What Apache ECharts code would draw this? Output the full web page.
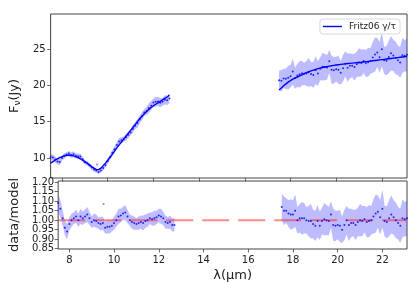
<!DOCTYPE html>
<html>
<head>
<meta charset="utf-8">
<script src="https://cdn.jsdelivr.net/npm/echarts@6/dist/echarts.min.js"></script>
<style>html,body{margin:0;padding:0;background:#fff}#c{width:415px;height:283px}</style>
</head>
<body>
<div id="c"></div>
<script>
// ---- data ----
const xTicks = [8, 10, 12, 14, 16, 18, 20, 22];
const fluxTicks = [10, 15, 20, 25];
const ratioTicks = [0.85, 0.90, 0.95, 1.00, 1.05, 1.10, 1.15, 1.20];
const ratioLabelsOdd = [0.85, 0.95, 1.05, 1.15];
const ratioLabelsEven = [0.90, 1.00, 1.10, 1.20];

const wlA = [7.5,7.6,7.7,7.8,7.9,8.0,8.1,8.2,8.3,8.4,8.5,8.6,8.7,8.8,8.9,9.0,9.1,9.2,9.3,9.4,9.5,9.6,9.7,9.8,9.9,10.0,10.1,10.2,10.3,10.4,10.5,10.6,10.7,10.8,10.9,11.0,11.1,11.2,11.3,11.4,11.5,11.6,11.7,11.8,11.9,12.0,12.1,12.2,12.3,12.4,12.5,12.6,12.7];
const modelA = [9.3,9.5,9.7,9.9,10.05,10.2,10.3,10.38,10.4,10.38,10.3,10.2,10.05,9.9,9.72,9.5,9.28,9.05,8.82,8.6,8.4,8.4,8.6,8.95,9.3,9.7,10.1,10.5,10.95,11.4,11.8,12.2,12.6,13.0,13.4,13.8,14.2,14.6,15.0,15.4,15.75,16.1,16.4,16.7,16.95,17.2,17.4,17.6,17.8,18.0,18.2,18.4,18.65];
const ratioA = [1.09,1.06,1.01,0.96,0.94,0.98,1.00,1.01,1.02,1.00,1.02,1.01,1.02,1.03,1.01,0.99,1.00,0.995,0.985,0.98,0.985,0.96,0.965,0.965,0.97,0.985,1.00,1.02,1.025,1.035,1.04,1.02,1.00,0.99,0.985,0.98,0.985,0.99,0.985,0.995,1.00,1.01,1.005,1.01,1.015,1.025,1.02,1.01,0.99,0.985,0.99,0.975,0.975];
const rerrA = [0.045,0.045,0.04,0.04,0.04,0.035,0.035,0.03,0.035,0.035,0.04,0.035,0.035,0.04,0.035,0.03,0.035,0.035,0.03,0.035,0.035,0.03,0.035,0.035,0.03,0.035,0.035,0.04,0.035,0.035,0.04,0.035,0.03,0.035,0.035,0.03,0.035,0.035,0.04,0.035,0.035,0.03,0.035,0.04,0.035,0.035,0.04,0.035,0.035,0.03,0.035,0.035,0.035];

const wlB = [17.5,17.6,17.7,17.8,17.9,18.0,18.1,18.2,18.3,18.4,18.5,18.6,18.7,18.8,18.9,19.0,19.1,19.2,19.3,19.4,19.5,19.6,19.7,19.8,19.9,20.0,20.1,20.2,20.3,20.4,20.5,20.6,20.7,20.8,20.9,21.0,21.1,21.2,21.3,21.4,21.5,21.6,21.7,21.8,21.9,22.0,22.1,22.2,22.3,22.4,22.5,22.6,22.7,22.8,22.9,23.0,23.1];
const modelB = [19.35,19.65,19.95,20.2,20.45,20.65,20.85,21.0,21.15,21.3,21.45,21.6,21.75,21.9,22.0,22.1,22.2,22.3,22.38,22.45,22.52,22.58,22.64,22.7,22.75,22.8,22.84,22.88,22.92,22.96,23.0,23.03,23.06,23.09,23.12,23.15,23.18,23.22,23.26,23.3,23.34,23.38,23.42,23.46,23.5,23.54,23.58,23.62,23.66,23.7,23.74,23.78,23.82,23.86,23.9,23.94,23.98];
const ratioB = [1.07,1.05,1.05,1.035,1.03,1.03,1.05,1.00,1.01,1.01,1.01,1.00,0.995,0.995,0.98,0.97,0.995,0.97,0.995,1.005,1.00,0.995,1.03,0.975,0.97,0.975,0.97,0.95,0.975,1.00,0.975,0.985,0.985,0.975,0.99,1.00,0.995,1.005,0.99,0.995,1.00,1.02,1.035,1.045,1.015,1.06,0.995,0.99,1.01,1.03,1.015,1.00,0.985,0.97,1.01,1.005,1.01];
const rerrB = [0.07,0.075,0.065,0.07,0.08,0.075,0.085,0.07,0.075,0.085,0.08,0.07,0.08,0.09,0.075,0.08,0.085,0.075,0.07,0.085,0.08,0.075,0.07,0.085,0.08,0.075,0.085,0.07,0.08,0.075,0.085,0.075,0.07,0.08,0.075,0.085,0.08,0.07,0.08,0.085,0.075,0.09,0.1,0.085,0.09,0.1,0.08,0.085,0.095,0.1,0.09,0.095,0.085,0.09,0.1,0.09,0.095];

// single outlier point (spike near 9.5 µm)
const outlierWl = [9.53];
const outlierRatio = [1.085];
const outlierModel = [8.4];

const refLine = [[7.5, 1.0], [23.1, 1.0]];

// ---- derived series ----
const zip = (a, b) => a.map((v, i) => [v, b[i]]);
const fluxA = ratioA.map((r, i) => modelA[i] * r);
const fluxB = ratioB.map((r, i) => modelB[i] * r);

function bandPolys(wl, center, err, scale) {
  const up = wl.map((x, i) => [x, scale[i] * (center[i] + err[i])]);
  const lo = wl.map((x, i) => [x, scale[i] * (center[i] - err[i])]);
  return up.concat(lo.reverse());
}
const ones = n => new Array(n).fill(1);
const topBands = [bandPolys(wlA, ratioA, rerrA, modelA), bandPolys(wlB, ratioB, rerrB, modelB)];
const botBands = [bandPolys(wlA, ratioA, rerrA, ones(wlA.length)), bandPolys(wlB, ratioB, rerrB, ones(wlB.length))];

const BLUE = '#0000ff';
const BAND = 'rgba(70,70,255,0.36)';
const AX = '#444';
const FONT = 'DejaVu Sans';

function bandSeries(polys, idx) {
  return {
    type: 'custom', xAxisIndex: idx, yAxisIndex: idx, silent: true, clip: true, z: 1,
    data: polys.map((p, i) => [p[0][0], p[0][1], i]),
    renderItem: function (params, api) {
      const poly = polys[api.value(2)];
      const pts = poly.map(p => api.coord(p));
      return { type: 'polygon', shape: { points: pts }, style: { fill: BAND, stroke: null } };
    }
  };
}

const chart = echarts.init(document.getElementById('c'), null, { renderer: 'canvas' });
const tickStyle = { show: true, length: 3.5, lineStyle: { color: AX, width: 0.8 } };
const labelStyle = { fontFamily: FONT, fontSize: 10, color: '#222', showMinLabel: true, showMaxLabel: true, hideOverlap: false };
const RMIN = 0.848, RMAX = 1.2065;

chart.setOption({
  animation: false,
  backgroundColor: '#fff',
  grid: [
    { left: 41, right: 8, top: 14, height: 164, show: true, borderColor: AX, borderWidth: 1, backgroundColor: 'transparent' },
    { left: 41, right: 8, top: 181, height: 71.7, show: true, borderColor: AX, borderWidth: 1, backgroundColor: 'transparent' }
  ],
  legend: {
    data: [{ name: 'Fritz06 γ/τ', icon: 'rect' }], right: 15, top: 19, padding: [3, 4, 3, 3], itemWidth: 19, itemHeight: 1.4, itemGap: 4,
    borderColor: '#d8d8d8', borderWidth: 1, borderRadius: 3, backgroundColor: '#fff',
    textStyle: { fontFamily: FONT, fontSize: 9, color: '#222', padding: [0, 0, 0, 2] }
  },
  xAxis: [
    { type: 'value', gridIndex: 0, min: 7.5, max: 23.1, axisLine: { show: false }, splitLine: { show: false },
      axisTick: Object.assign({}, tickStyle, { customValues: xTicks, inside: false }), axisLabel: { show: false } },
    { type: 'value', gridIndex: 1, min: 7.5, max: 23.1, axisLine: { show: false }, splitLine: { show: false },
      axisTick: Object.assign({}, tickStyle, { customValues: xTicks }),
      axisLabel: Object.assign({}, labelStyle, { customValues: xTicks, margin: 6 }),
      name: 'λ(μm)', nameLocation: 'middle', nameGap: 20,
      nameTextStyle: { fontFamily: FONT, fontSize: 13, color: '#222' } }
  ],
  yAxis: [
    { type: 'value', gridIndex: 0, min: 7.25, max: 29.82, axisLine: { show: false }, splitLine: { show: false },
      axisTick: Object.assign({}, tickStyle, { customValues: fluxTicks }),
      axisLabel: Object.assign({}, labelStyle, { customValues: fluxTicks, margin: 5 }),
      name: '{n|F}{s|ν}{n|(Jy)}', nameLocation: 'middle', nameGap: 21,
      nameTextStyle: { rich: { n: { fontFamily: FONT, fontSize: 13, color: '#222' }, s: { fontFamily: FONT, fontSize: 9, color: '#222', padding: [6, 0, 0, 0] } } } },
    { type: 'value', gridIndex: 1, min: RMIN, max: RMAX, axisLine: { show: false }, splitLine: { show: false },
      axisTick: Object.assign({}, tickStyle, { customValues: ratioTicks }),
      axisLabel: Object.assign({}, labelStyle, { customValues: ratioLabelsOdd, margin: 4, formatter: v => v.toFixed(2) }),
      name: 'data/model', nameLocation: 'middle', nameGap: 32,
      nameTextStyle: { fontFamily: FONT, fontSize: 13, color: '#222' } },
    { type: 'value', gridIndex: 1, min: RMIN, max: RMAX, position: 'left', offset: 0, axisLine: { show: false }, splitLine: { show: false },
      axisTick: { show: false },
      axisLabel: Object.assign({}, labelStyle, { customValues: ratioLabelsEven, margin: 4, formatter: v => v.toFixed(2) }) }
  ],
  series: [
    bandSeries(topBands, 0),
    bandSeries(botBands, 1),
    { type: 'scatter', xAxisIndex: 0, yAxisIndex: 0, data: zip(wlA, fluxA), symbolSize: 2, itemStyle: { color: BLUE }, z: 3, silent: true },
    { type: 'scatter', xAxisIndex: 0, yAxisIndex: 0, data: zip(wlB, fluxB), symbolSize: 2, itemStyle: { color: BLUE }, z: 3, silent: true },
    { type: 'scatter', xAxisIndex: 0, yAxisIndex: 0, data: outlierWl.map((x, i) => [x, outlierModel[i] * outlierRatio[i]]), symbolSize: 2, itemStyle: { color: '#6060ff' }, z: 3, silent: true },
    { name: 'Fritz06 γ/τ', type: 'line', xAxisIndex: 0, yAxisIndex: 0, data: zip(wlA, modelA), symbol: 'none', lineStyle: { color: BLUE, width: 1.4 }, itemStyle: { color: BLUE }, z: 4, silent: true },
    { name: 'Fritz06 γ/τ', type: 'line', xAxisIndex: 0, yAxisIndex: 0, data: zip(wlB, modelB), symbol: 'none', lineStyle: { color: BLUE, width: 1.4 }, itemStyle: { color: BLUE }, z: 4, silent: true },
    { type: 'line', xAxisIndex: 1, yAxisIndex: 1, data: refLine, symbol: 'none', lineStyle: { color: 'rgba(255,40,40,0.55)', width: 2, type: [27, 9] }, z: 2, silent: true },
    { type: 'scatter', xAxisIndex: 1, yAxisIndex: 1, data: zip(wlA, ratioA), symbolSize: 2, itemStyle: { color: BLUE }, z: 3, silent: true },
    { type: 'scatter', xAxisIndex: 1, yAxisIndex: 1, data: zip(wlB, ratioB), symbolSize: 2, itemStyle: { color: BLUE }, z: 3, silent: true },
    { type: 'scatter', xAxisIndex: 1, yAxisIndex: 1, data: zip(outlierWl, outlierRatio), symbolSize: 2, itemStyle: { color: '#6060ff' }, z: 3, silent: true }
  ]
});
</script>
</body>
</html>
